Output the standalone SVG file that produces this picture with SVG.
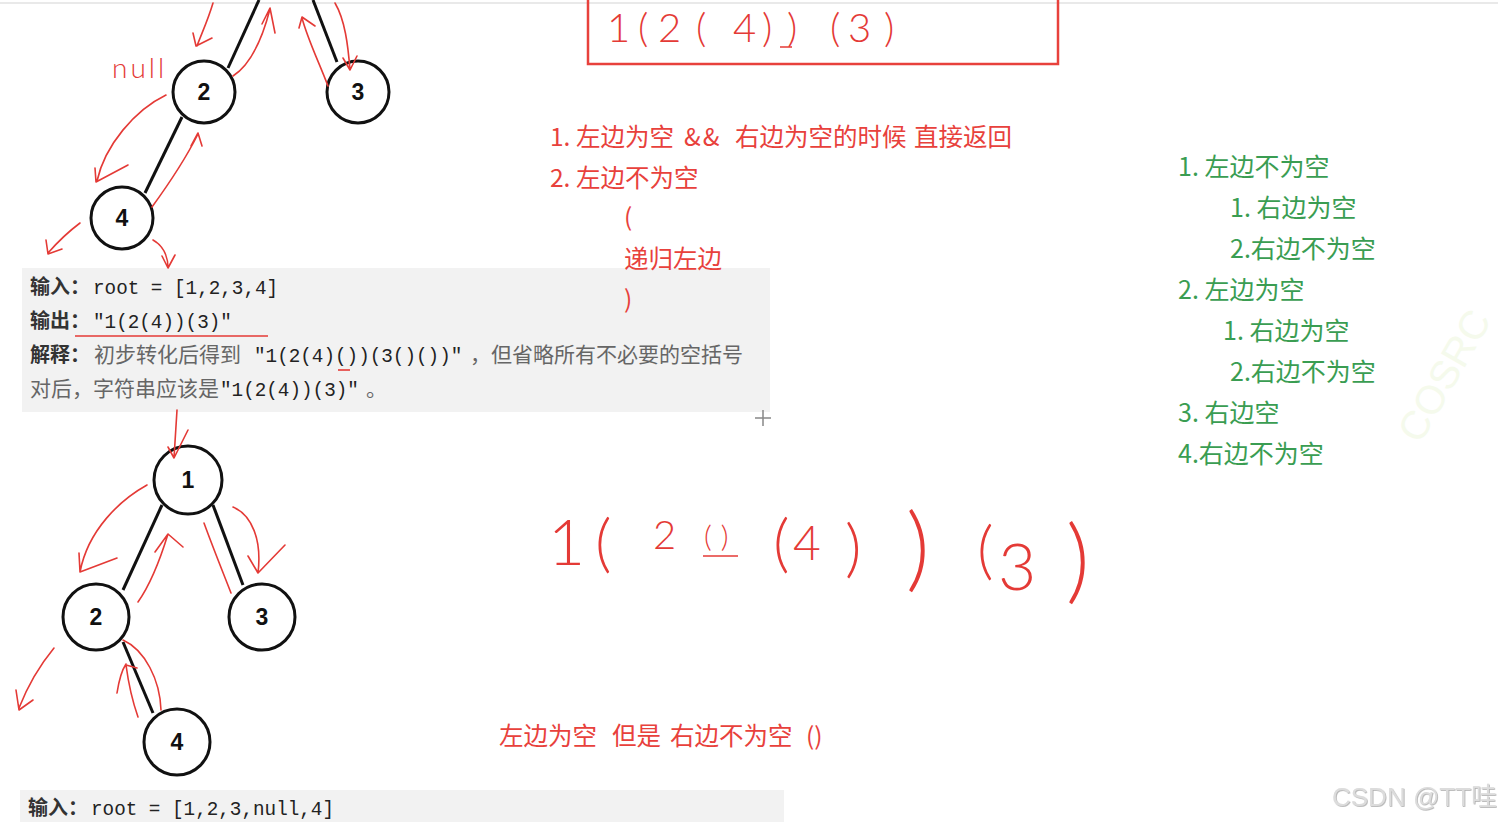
<svg xmlns="http://www.w3.org/2000/svg" width="1498" height="822" viewBox="0 0 1498 822">
<style>
.node circle{fill:#fff;stroke:#111;stroke-width:3}
.node text{font-family:"Liberation Sans",Arial,sans-serif;font-weight:bold;font-size:23px;fill:#111;text-anchor:middle}
.edge{stroke:#111;stroke-width:3;fill:none}
.ink{stroke:#e43a36;stroke-width:1.6;fill:none;stroke-linecap:round;stroke-linejoin:round}
.hand{font-family:Lato,"DejaVu Sans",sans-serif;font-weight:300;fill:#e43a36}
.red{font-family:"Noto Sans CJK SC",sans-serif;font-size:24.5px;fill:#e8413c}
.green{font-family:"Noto Sans CJK SC",sans-serif;font-size:25px;fill:#3a9d52}
.box{fill:#f2f2f2}
.lbl{font-family:"Noto Sans CJK SC",serif;font-weight:bold;font-size:20px;fill:#333}
.mono{font-family:"Liberation Mono","DejaVu Sans Mono",monospace;font-size:19.3px;fill:#222}
.cn{font-family:"Noto Sans CJK SC",sans-serif;font-size:21px;fill:#666}
</style>
<defs>
<filter id="sh" x="-10%" y="-10%" width="120%" height="130%"><feDropShadow dx="0.8" dy="0.8" stdDeviation="0.6" flood-color="#999" flood-opacity="0.8"/></filter>
</defs>
<rect width="1498" height="822" fill="#fff"/>
<line x1="0" y1="3" x2="1498" y2="3" stroke="#e2e2e2" stroke-width="1.5"/>

<!-- grey code boxes -->
<g id="example1">
<rect class="box" x="22" y="268" width="748" height="144"/>
<text x="30" y="294"><tspan class="lbl">输入：</tspan><tspan class="mono" x="93">root = [1,2,3,4]</tspan></text>
<text x="30" y="328"><tspan class="lbl">输出：</tspan><tspan class="mono" x="93">"1(2(4))(3)"</tspan></text>
<line x1="75" y1="336" x2="268" y2="336" stroke="#e43a36" stroke-width="1.6"/>
<text x="30" y="362"><tspan class="lbl">解释：</tspan><tspan class="cn" x="94">初步转化后得到</tspan><tspan class="mono" x="254">"1(2(4)())(3()())"</tspan><tspan class="cn" x="470">，但省略所有不必要的空括号</tspan></text>
<line x1="338" y1="370" x2="350" y2="370" stroke="#e43a36" stroke-width="1.6"/>
<text x="30" y="396"><tspan class="cn">对后，字符串应该是</tspan><tspan class="mono" x="220">"1(2(4))(3)"</tspan><tspan class="cn" x="366">。</tspan></text>
</g>
<g id="example2">
<rect class="box" x="20" y="790" width="764" height="32"/>
<text x="28" y="815"><tspan class="lbl">输入：</tspan><tspan class="mono" x="91">root = [1,2,3,null,4]</tspan></text>
</g>

<!-- connectors -->
<g id="connectors">
<line class="edge" x1="228" y1="68" x2="259" y2="0"/>
<line class="edge" x1="337" y1="62" x2="313" y2="0"/>
<line class="edge" x1="182" y1="117" x2="145" y2="193"/>
<line class="edge" x1="162" y1="505" x2="123" y2="590"/>
<line class="edge" x1="213" y1="505" x2="243" y2="585"/>
<line class="edge" x1="123" y1="642" x2="153" y2="713"/>
</g>

<!-- top tree nodes -->
<g id="t2" class="node"><circle cx="204" cy="92" r="31"/><text x="204" y="100">2</text></g>
<g id="t3" class="node"><circle cx="358" cy="92" r="31"/><text x="358" y="100">3</text></g>
<g id="t4" class="node"><circle cx="122" cy="218" r="31"/><text x="122" y="226">4</text></g>
<!-- bottom tree nodes -->
<g id="b1" class="node"><circle cx="188" cy="480" r="34"/><text x="188" y="488">1</text></g>
<g id="b2" class="node"><circle cx="96" cy="617" r="33"/><text x="96" y="625">2</text></g>
<g id="b3" class="node"><circle cx="262" cy="617" r="33"/><text x="262" y="625">3</text></g>
<g id="b4" class="node"><circle cx="177" cy="742" r="33"/><text x="177" y="750">4</text></g>

<!-- red annotation strokes -->
<g id="annotations">
<path class="ink" d="M213,3 C208,20 201,35 197,46 M193,33 L196,46 L212,38"/>
<path class="ink" d="M233,76 C250,65 262,40 270,9 M262,24 L270,8 L275,33"/>
<path class="ink" d="M328,86 C318,60 308,40 302,18 M299,28 L302,17 L315,26"/>
<path class="ink" d="M335,3 C345,20 348,45 350,70 M343,58 L350,70 L357,56"/>
<path class="ink" d="M166,95 C135,110 105,145 97,181 M95,168 L96,182 L128,165"/>
<path class="ink" d="M152,207 C168,185 185,160 198,134 M191,146 L198,133 L202,146"/>
<path class="ink" d="M80,223 C68,232 55,245 48,253 M46,240 L48,254 L62,249"/>
<path class="ink" d="M153,240 C162,245 168,255 168,268 M162,256 L168,268 L175,255"/>
<path class="ink" d="M177,410 L174,458 M168,447 L174,458 L188,430"/>
<path class="ink" d="M147,485 C120,500 88,530 80,572 M79,553 L80,572 L117,558"/>
<path class="ink" d="M138,602 C150,585 160,560 168,534 M155,552 L168,534 L183,547"/>
<path class="ink" d="M233,507 C252,515 262,540 258,573 M248,556 L258,573 L285,545"/>
<path class="ink" d="M231,593 C222,570 212,545 204,523"/>
<path class="ink" d="M54,648 C40,665 28,685 19,708 M16,690 L19,710 L33,700"/>
<path class="ink" d="M138,717 C132,700 128,680 126,665 L137,668 M117,693 C119,680 122,670 126,664"/>
<path class="ink" d="M123,640 C145,650 160,680 161,710"/>
<text class="hand" x="112" y="78" font-size="28" letter-spacing="3">null</text>
</g>

<!-- top red box with handwriting -->
<g id="answer-box">
<rect x="588" y="-6" width="470" height="70" fill="none" stroke="#e8413c" stroke-width="2.5"/>
<text class="hand" y="42" font-size="40"><tspan x="607">1</tspan><tspan x="638">(</tspan><tspan x="658">2</tspan><tspan x="696">(</tspan><tspan x="733">4</tspan><tspan x="762">)</tspan><tspan x="787">)</tspan><tspan x="830">(</tspan><tspan x="848">3</tspan><tspan x="884">)</tspan></text>
<line x1="780" y1="47" x2="792" y2="47" stroke="#e43a36" stroke-width="1.5"/>
</g>

<!-- red notes -->
<g id="red-notes">
<text class="red" y="146"><tspan x="550">1. 左边为空</tspan><tspan x="684" letter-spacing="2">&amp;&amp;</tspan><tspan x="735">右边为空的时候</tspan><tspan x="914">直接返回</tspan></text>
<text class="red" x="550" y="187">2. 左边不为空</text>
<text class="red" x="624" y="226">(</text>
<text class="red" x="624" y="268">递归左边</text>
<text class="red" x="624" y="308">)</text>
</g>

<!-- green notes -->
<g id="green-notes">
<text class="green" x="1178" y="176">1. 左边不为空</text>
<text class="green" x="1230" y="217">1. 右边为空</text>
<text class="green" x="1230" y="258">2.右边不为空</text>
<text class="green" x="1178" y="299">2. 左边为空</text>
<text class="green" x="1223" y="340">1. 右边为空</text>
<text class="green" x="1230" y="381">2.右边不为空</text>
<text class="green" x="1178" y="422">3. 右边空</text>
<text class="green" x="1178" y="463">4.右边不为空</text>
</g>

<!-- bottom handwriting -->
<g id="handwriting-bottom">
<text class="hand" y="565" font-size="64"><tspan x="548">1</tspan><tspan x="595">(</tspan><tspan x="653" y="549" font-size="40">2</tspan><tspan x="704" y="547" font-size="30" letter-spacing="9">()</tspan><tspan x="773" y="565">(</tspan><tspan x="793" y="560" font-size="48">4</tspan><tspan x="845" y="570">)</tspan><tspan x="906" y="580" font-size="92">)</tspan><tspan x="977" y="572">(</tspan><tspan x="998" y="590" font-size="66">3</tspan><tspan x="1066" y="592" font-size="92">)</tspan></text>
<line x1="703" y1="556" x2="738" y2="556" stroke="#e43a36" stroke-width="1.6"/>
</g>
<text class="red" y="745"><tspan x="499">左边为空</tspan><tspan x="612">但是</tspan><tspan x="670">右边不为空</tspan><tspan x="806">()</tspan></text>

<!-- cursor -->
<path d="M763,410 V426 M755,418 H771" stroke="#888" stroke-width="1.5" fill="none"/>

<!-- watermarks -->
<text x="1420" y="445" transform="rotate(-60 1420 445)" font-family="Liberation Sans,sans-serif" font-size="40" fill="#f5faec">COSRC</text>
<text x="1332" y="806" font-family="Liberation Sans,Arial,'Noto Sans CJK SC',sans-serif" font-size="26" fill="#dcdcdc" filter="url(#sh)">CSDN @TT哇</text>
</svg>
